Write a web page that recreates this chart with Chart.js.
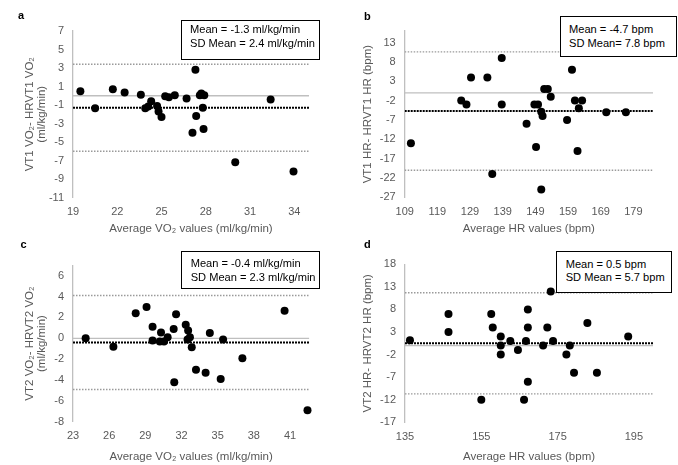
<!DOCTYPE html>
<html>
<head>
<meta charset="utf-8">
<script src="https://cdn.jsdelivr.net/npm/chart.js@4.4.1/dist/chart.umd.min.js"></script>
<style>
  html, body { margin:0; padding:0; background:#fff; width:678px; height:465px; overflow:hidden; }
  .pn { position:absolute; }
  .pn canvas { display:block; }
  .lg { position:absolute; border:1.3px solid #000; background:#fff; box-sizing:border-box; }
  .lt { position:absolute; font:11.1px "Liberation Sans", Arial, sans-serif; line-height:14px; white-space:nowrap; color:#000; }
  .lt2 { position:absolute; font:bold 11px "Liberation Sans", Arial, sans-serif; line-height:14px; color:#000; }
</style>
</head>
<body>
<div class="pn" id="pa" style="left:0px;top:0px;"><canvas id="ca" width="339" height="240"></canvas></div>
<div class="pn" id="pb" style="left:338px;top:0px;"><canvas id="cb" width="340" height="240"></canvas></div>
<div class="pn" id="pc" style="left:0px;top:230px;"><canvas id="cc" width="339" height="235"></canvas></div>
<div class="pn" id="pd" style="left:338px;top:230px;"><canvas id="cd" width="340" height="235"></canvas></div>

<div class="lt2" style="left:18px;top:8px;">a</div>
<div class="lt2" style="left:364px;top:9px;">b</div>
<div class="lt2" style="left:20.5px;top:237px;">c</div>
<div class="lt2" style="left:364px;top:237px;">d</div>

<div class="lg" style="left:181px;top:20px;width:138.5px;height:39.5px;"></div>
<div class="lt" style="left:190px;top:22.3px;">Mean = -1.3 ml/kg/min</div>
<div class="lt" style="left:190px;top:36.3px;">SD Mean = 2.4 ml/kg/min</div>

<div class="lg" style="left:559.7px;top:16px;width:117.6px;height:41.3px;"></div>
<div class="lt" style="left:569px;top:22.3px;">Mean = -4.7 bpm</div>
<div class="lt" style="left:569px;top:35.7px;">SD Mean= 7.8 bpm</div>

<div class="lg" style="left:181px;top:250.7px;width:139px;height:38px;"></div>
<div class="lt" style="left:190.7px;top:256.3px;">Mean = -0.4 ml/kg/min</div>
<div class="lt" style="left:190.7px;top:269.7px;">SD Mean = 2.3 ml/kg/min</div>

<div class="lg" style="left:555.7px;top:250.7px;width:116.6px;height:42.6px;"></div>
<div class="lt" style="left:565.7px;top:257px;">Mean = 0.5 bpm</div>
<div class="lt" style="left:565.7px;top:270.3px;">SD Mean = 5.7 bpm</div>

<script>
// ---------- DATA ----------
// Panel a: VT1 VO2
const aX = [19.5,20.5,21.7,22.5,23.6,23.9,24.1,24.3,24.7,24.8,25.0,25.25,25.5,25.9,26.7,27.3,27.35,27.1,27.6,27.7,27.9,27.8,27.85,30.0,32.4,33.95];
const aY = [0.5,-1.35,0.7,0.35,0.1,-1.35,-1.15,-0.6,-1.1,-1.7,-2.3,-0.05,-0.15,0.05,-0.3,2.8,-2.2,-4.0,0.05,0.25,0.05,-1.3,-3.6,-7.2,-0.4,-8.2];
const aStats = [-1.3, 3.4, -6.0];           // mean, upper LoA, lower LoA
const aXTicks = [19,22,25,28,31,34];
const aXRange = [19,35];
const aYTicks = [-11,-9,-7,-5,-3,-1,1,3,5,7];
const aYRange = [-11,7];

// Panel b: VT1 HR
const bX = [110.9,126.3,127.9,129.3,134.3,135.8,138.7,138.7,146.3,148.7,149.8,149.2,150.8,151.2,150.8,151.7,152.8,153.7,158.7,160.2,161.1,162.3,161.9,163.3,170.7,176.7];
const bY = [-13,-2,-3,4,4,-21,9,-3,-8,-3,-3,-14,-4.9,-6,-25,1,1,-1,-7,6,-2,-4,-15,-2,-5,-5];
const bStats = [-4.7, 10.6, -20.0];
const bXTicks = [109,119,129,139,149,159,169,179];
const bXRange = [109,185];
const bYTicks = [-27,-22,-17,-12,-7,-2,3,8,13];
const bYRange = [-27,16];

// Panel c: VT2 VO2
const cX = [24.05,26.35,28.2,29.1,29.6,29.6,30.3,30.2,30.55,30.85,31.35,31.55,31.4,32.35,32.55,32.7,32.5,32.85,33.2,34.0,34.35,35.25,35.45,37.05,40.55,42.45];
const cY = [0,-0.8,2.4,3.0,1.1,-0.2,0.55,-0.3,-0.3,0.1,0.9,2.3,-4.2,1.3,0.75,0.1,-0.1,-0.85,-3.0,-3.3,0.5,-3.9,-0.1,-1.9,2.65,-6.9];
const cStats = [-0.4, 4.1, -4.9];
const cXTicks = [23,26,29,32,35,38,41];
const cXRange = [23,42.6];
const cYTicks = [-8,-6,-4,-2,0,2,4,6];
const cYRange = [-8,7];

// Panel d: VT2 HR
const dX = [136.3,146.4,146.4,157.6,158.0,160.1,160.1,160.1,162.6,164.6,166.2,155.0,166.7,167.2,167.2,167.2,171.2,172.3,173.2,173.8,177.3,178.2,179.3,182.8,185.3,193.5];
const dY = [1.2,7,3,7,4,2,0,-2,1,-1,-12,-12,1,8,4,-8,0,4,12,1,-2,0,-6,5,-6,2];
const dStats = [0.5, 11.7, -10.7];
const dXTicks = [135,155,175,195];
const dXRange = [135,200];
const dYTicks = [-17,-12,-7,-2,3,8,13,18];
const dYRange = [-17,18];

// ---------- CHARTS ----------
const FONT = '"Liberation Sans", Arial, sans-serif';
const GRAY = '#595959';

function seg(xr, y) { return [{x: xr[0], y: y}, {x: xr[1], y: y}]; }

function makePanel(id, xs, ys, stats, xTicks, xRange, yTicks, yRange, xTitle, yTitle, box) {
  const pts = xs.map((x, i) => ({x: x, y: ys[i]}));
  const W = box.w, H = box.h;
  new Chart(document.getElementById(id), {
    type: 'scatter',
    data: {
      datasets: [
        { data: pts, pointRadius: 4, pointBackgroundColor: '#000', pointBorderWidth: 0, showLine: false, clip: false },
        { data: seg(xRange, stats[0]), showLine: true, pointRadius: 0, borderColor: '#000', borderWidth: 2, borderDash: [2, 1] },
        { data: seg(xRange, stats[1]), showLine: true, pointRadius: 0, borderColor: '#9a9a9a', borderWidth: 1.4, borderDash: [1.5, 1.5] },
        { data: seg(xRange, stats[2]), showLine: true, pointRadius: 0, borderColor: '#9a9a9a', borderWidth: 1.4, borderDash: [1.5, 1.5] },
        { data: seg(xRange, 0), showLine: true, pointRadius: 0, borderColor: '#bfbfbf', borderWidth: 1.3 }
      ]
    },
    options: {
      responsive: false,
      animation: false,
      events: [],
      layout: { padding: { left: 0, top: box.t, right: W - box.r, bottom: 0 } },
      plugins: { legend: { display: false }, tooltip: { enabled: false } },
      scales: {
        x: {
          type: 'linear', min: xRange[0], max: xRange[1],
          grid: { display: false, drawTicks: false },
          border: { display: false },
          afterBuildTicks: s => { s.ticks = xTicks.map(v => ({value: v})); },
          afterFit: s => { s.height = H - box.b; },
          ticks: { autoSkip: false, maxRotation: 0, padding: 8, color: GRAY, font: { family: FONT, size: 11 } },
          title: { display: true, text: xTitle, color: GRAY, font: { family: FONT, size: 11.5 }, padding: { top: 0, bottom: box.xtp } }
        },
        y: {
          type: 'linear', min: yRange[0], max: yRange[1],
          grid: { display: false, drawTicks: false },
          border: { display: true, color: '#bfbfbf', width: 1.3 },
          afterBuildTicks: s => { s.ticks = yTicks.map(v => ({value: v})); },
          afterFit: s => { s.width = box.l; },
          ticks: { autoSkip: false, padding: 9, color: GRAY, font: { family: FONT, size: 11 } },
          title: { display: true, text: yTitle, color: GRAY, font: { family: FONT, size: 11.5, lineHeight: 1.0 }, padding: { top: 24.25, bottom: 0 } }
        }
      }
    }
  });
}

makePanel('ca', aX, aY, aStats, aXTicks, aXRange, aYTicks, aYRange,
  'Average VO\u2082 values (ml/kg/min)', ['VT1 VO\u2082- HRVT1 VO\u2082', '(ml/kg/min)'],
  { w: 339, h: 240, l: 73, t: 31, r: 309, b: 197.5, xtp: 3.8 });
makePanel('cb', bX, bY, bStats, bXTicks, bXRange, bYTicks, bYRange,
  'Average HR values (bpm)', 'VT1 HR- HRVT1 HR (bpm)',
  { w: 340, h: 240, l: 66.7, t: 31, r: 315, b: 197.3, xtp: 3.8 });
makePanel('cc', cX, cY, cStats, cXTicks, cXRange, cYTicks, cYRange,
  'Average VO\u2082 values (ml/kg/min)', ['VT2 VO\u2082- HRVT2 VO\u2082', '(ml/kg/min)'],
  { w: 339, h: 235, l: 73, t: 35.3, r: 309.3, b: 191.8, xtp: 1.4 });
makePanel('cd', dX, dY, dStats, dXTicks, dXRange, dYTicks, dYRange,
  'Average HR values (bpm)', 'VT2 HR- HRVT2 HR (bpm)',
  { w: 340, h: 235, l: 67, t: 34.3, r: 315, b: 192.3, xtp: 1.4 });
</script>
</body>
</html>
